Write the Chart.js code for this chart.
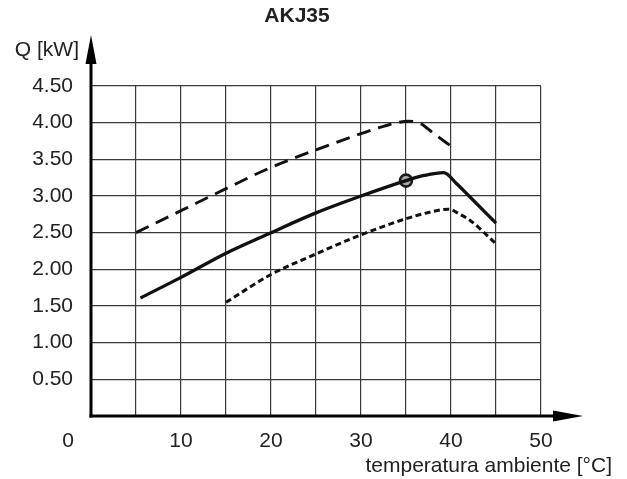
<!DOCTYPE html>
<html>
<head>
<meta charset="utf-8">
<script src="https://cdn.jsdelivr.net/npm/chart.js@4/dist/chart.umd.min.js"></script>
<style>
html,body{margin:0;padding:0;background:#fff;}
#wrap{width:627px;height:479px;position:relative;}
</style>
</head>
<body>
<div id="wrap"><canvas id="c" width="627" height="479"></canvas></div>
<script>
// ---- data ----
const chartTitle = "AKJ35";
const yAxisLabel = "Q [kW]";
const xAxisLabel = "temperatura ambiente [°C]";
const yTickValues = [0.5, 1.0, 1.5, 2.0, 2.5, 3.0, 3.5, 4.0, 4.5];
const xTickLabels = [10, 20, 30, 40, 50];

const solidX = [5.5, 10, 15, 20, 25, 30, 35, 37, 39.2, 40.6, 42, 45];
const solidY = [1.61, 1.89, 2.22, 2.50, 2.77, 3.00, 3.21, 3.28, 3.32, 3.17, 3.00, 2.63];

const dashedX = [5, 10, 15, 20, 25, 30, 32.5, 35.3, 36.6, 38, 40.1];
const dashedY = [2.50, 2.80, 3.10, 3.39, 3.63, 3.85, 3.95, 4.02, 3.99, 3.86, 3.67];

const dottedX = [15, 20, 25, 30, 35, 38, 39.7, 41, 42.1, 45];
const dottedY = [1.55, 1.93, 2.21, 2.47, 2.69, 2.79, 2.82, 2.75, 2.67, 2.35];

const markerX = [35];
const markerY = [3.21];

const pts = (xs, ys) => xs.map((x, i) => ({x: x, y: ys[i]}));
const FONT = '"Liberation Sans", Arial, sans-serif';

const overlay = {
  id: 'overlay',
  afterDraw(chart) {
    const ctx = chart.ctx;
    const xs = chart.scales.x, ys = chart.scales.y;
    const x0 = xs.getPixelForValue(0), y0 = ys.getPixelForValue(0);
    ctx.save();
    ctx.fillStyle = '#000';
    ctx.strokeStyle = '#000';
    ctx.lineWidth = 3;
    ctx.lineCap = 'butt';
    // y axis
    ctx.beginPath();
    ctx.moveTo(x0, y0 + 1.5);
    ctx.lineTo(x0, 60);
    ctx.stroke();
    ctx.beginPath();
    ctx.moveTo(x0, 35);
    ctx.lineTo(x0 - 5.5, 64);
    ctx.lineTo(x0 + 5.5, 64);
    ctx.closePath();
    ctx.fill();
    // x axis
    ctx.beginPath();
    ctx.moveTo(x0 - 1.5, y0);
    ctx.lineTo(556, y0);
    ctx.stroke();
    ctx.beginPath();
    ctx.moveTo(583, y0);
    ctx.lineTo(553, y0 - 5.5);
    ctx.lineTo(553, y0 + 5.5);
    ctx.closePath();
    ctx.fill();
    // texts
    ctx.fillStyle = '#222';
    ctx.textBaseline = 'middle';
    ctx.font = 'bold 21px ' + FONT;
    ctx.textAlign = 'center';
    ctx.fillText(chartTitle, 297, 16);
    ctx.font = '21px ' + FONT;
    ctx.textAlign = 'right';
    ctx.fillText(yAxisLabel, 79, 50);
    ctx.fillText(xAxisLabel, 612, 466);
    ctx.textAlign = 'center';
    ctx.fillText('0', 68, 441);
    ctx.restore();
  }
};

new Chart(document.getElementById('c'), {
  type: 'line',
  data: {
    datasets: [
      {data: pts(solidX, solidY), borderColor: '#111', borderWidth: 3.3, pointRadius: 0,
       cubicInterpolationMode: 'monotone', fill: false},
      {data: pts(dashedX, dashedY), borderColor: '#111', borderWidth: 2.9, borderDash: [14, 8], pointRadius: 0,
       cubicInterpolationMode: 'monotone', fill: false},
      {data: pts(dottedX, dottedY), borderColor: '#111', borderWidth: 3, borderDash: [6, 3.5], pointRadius: 0,
       cubicInterpolationMode: 'monotone', fill: false},
      {data: pts(markerX, markerY), showLine: false, pointRadius: 6, pointBorderWidth: 2.6,
       pointBackgroundColor: '#a8a8a8', pointBorderColor: '#1a1a1a'}
    ]
  },
  options: {
    responsive: false,
    animation: false,
    events: [],
    layout: {padding: {left: 0, top: 86, right: 86, bottom: 0}},
    plugins: {legend: {display: false}, tooltip: {enabled: false}, title: {display: false}},
    scales: {
      x: {
        type: 'linear', min: 0, max: 50,
        afterFit: s => { s.height = 63; },
        border: {display: false},
        grid: {color: '#3a3a3a', lineWidth: 1.2, drawTicks: false},
        ticks: {
          stepSize: 5, autoSkip: false, maxRotation: 0, padding: 13,
          color: '#222', font: {family: FONT, size: 21},
          callback: v => (xTickLabels.includes(v) ? String(v) : '')
        }
      },
      y: {
        type: 'linear', min: 0, max: 4.5,
        afterFit: s => { s.width = 91; },
        border: {display: false},
        grid: {color: '#3a3a3a', lineWidth: 1.2, drawTicks: false},
        ticks: {
          stepSize: 0.5, autoSkip: false, padding: 18,
          color: '#222', font: {family: FONT, size: 21},
          callback: v => (yTickValues.some(t => Math.abs(t - v) < 1e-9) ? v.toFixed(2) : '')
        }
      }
    }
  },
  plugins: [overlay]
});
</script>
</body>
</html>
